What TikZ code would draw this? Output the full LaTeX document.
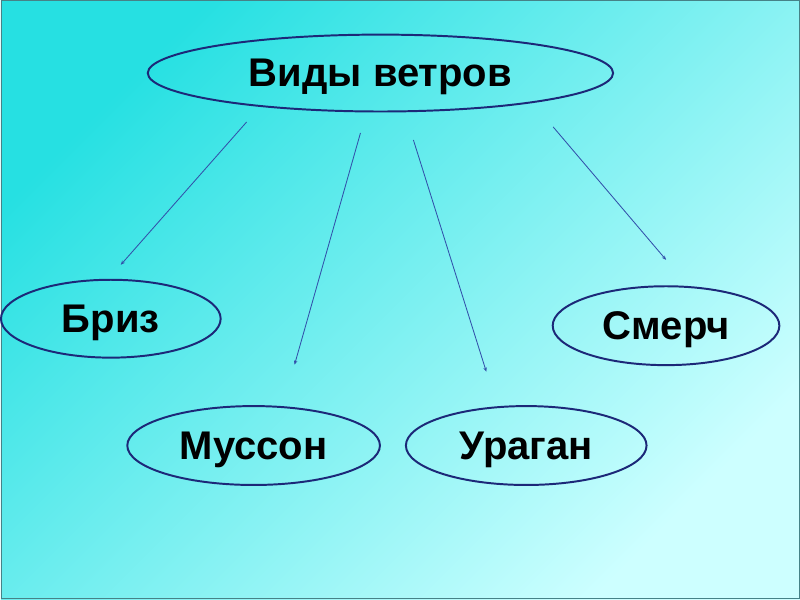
\documentclass[tikz,border=0pt]{standalone}
\usepackage{fontspec}
\setmainfont{Liberation Sans}
\usetikzlibrary{arrows.meta}
\usetikzlibrary{shapes.geometric}
\definecolor{fonA}{RGB}{38,224,226}
\definecolor{fonB}{RGB}{205,255,255}
\definecolor{rama}{RGB}{70,130,135}
\definecolor{kontur}{RGB}{28,40,120}
\definecolor{strelka}{RGB}{50,80,170}
\tikzset{
  vid/.style={ellipse, draw=kontur, line width=1.4pt, inner sep=0pt, text depth=0pt,
    font=\fontsize{28.5}{32}\selectfont\bfseries},
  strel/.style={-{Stealth[length=3pt,width=2.5pt]}, draw=strelka, line width=0.6pt}
}

\begin{document}
\begin{tikzpicture}
	\shade[top color=fonA, bottom color=fonB, shading angle=45] (0,0) rectangle (20,15);
	\draw[rama, line width=0.8pt] (0.01,0.01) rectangle (19.99,14.99);

	\node[vid, minimum width=11.65cm, minimum height=1.925cm] (vidy) at (9.5,13.175) {Виды ветров};
	\node[vid, minimum width=5.5cm, minimum height=1.95cm] (briz) at (2.75,7.025) {Бриз};
	\node[vid, minimum width=5.675cm, minimum height=1.975cm] (smerch) at (16.65,6.85) {Смерч};
	\node[vid, minimum width=6.325cm, minimum height=1.975cm] (musson) at (6.325,3.85) {Муссон};
	\node[vid, minimum width=6.025cm, minimum height=1.975cm] (uragan) at (13.15,3.85) {Ураган};

	\coordinate (b1) at (6.15,11.95);   \coordinate (e1) at (3.0,8.375);
	\coordinate (b2) at (9.0,11.675);   \coordinate (e2) at (7.35,5.875);
	\coordinate (b3) at (10.325,11.5);  \coordinate (e3) at (12.15,5.7);
	\coordinate (b4) at (13.825,11.825); \coordinate (e4) at (16.65,8.5);

	\draw[strel] (b1) -- (e1);
	\draw[strel] (b2) -- (e2);
	\draw[strel] (b3) -- (e3);
	\draw[strel] (b4) -- (e4);
\end{tikzpicture}
\end{document}
